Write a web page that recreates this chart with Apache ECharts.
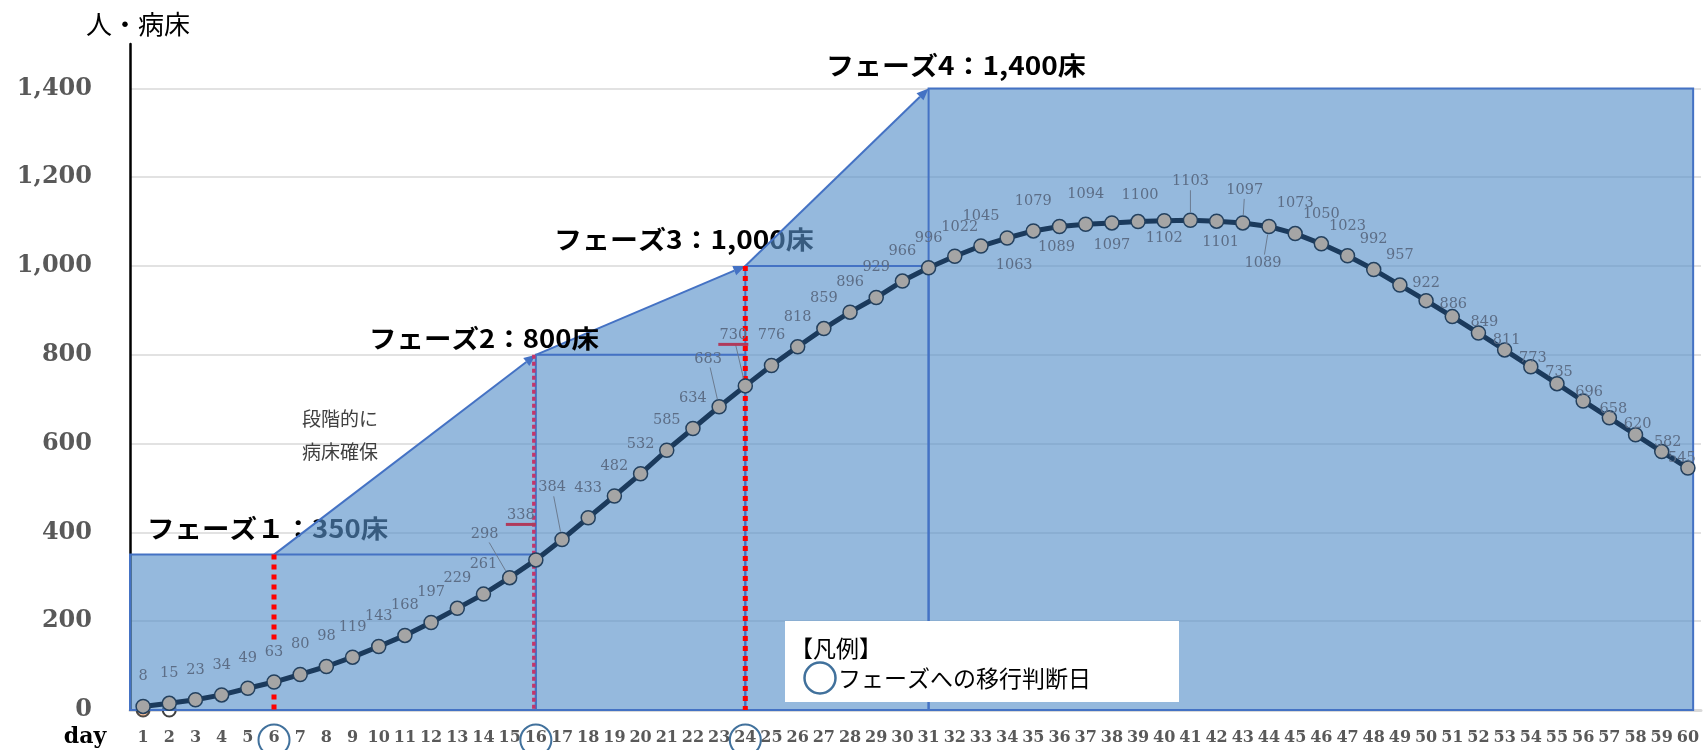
<!DOCTYPE html>
<html>
<head>
<meta charset="utf-8">
<script src="https://cdn.jsdelivr.net/npm/echarts@6/dist/echarts.min.js"></script>
<style>
html, body { margin: 0; padding: 0; background: #fff; }
#chart { width: 1704px; height: 750px; }
</style>
</head>
<body>
<div id="chart"></div>
<script>
// Day categories on the horizontal axis
const days = ['1','2','3','4','5','6','7','8','9','10','11','12','13','14','15','16','17','18','19','20',
  '21','22','23','24','25','26','27','28','29','30','31','32','33','34','35','36','37','38','39','40',
  '41','42','43','44','45','46','47','48','49','50','51','52','53','54','55','56','57','58','59','60'];

// Projected inpatients per day
const patients = [8, 15, 23, 34, 49, 63, 80, 98, 119, 143, 168, 197, 229, 261, 298, 338, 384, 433, 482, 532,
  585, 634, 683, 730, 776, 818, 859, 896, 929, 966, 996, 1022, 1045, 1063, 1079, 1089, 1094, 1097, 1100, 1102,
  1103, 1101, 1097, 1089, 1073, 1050, 1023, 992, 957, 922, 886, 849, 811, 773, 735, 696, 658, 620, 582, 545];

// Bed capacity per phase
const phaseLabels = ['フェーズ１：350床', 'フェーズ2：800床', 'フェーズ3：1,000床', 'フェーズ4：1,400床'];
const phaseBeds = [350, 800, 1000, 1400];
const phaseStart = [0.5, 16, 24, 31];
const phaseEnd = 60.2;

// Days on which the move to the next phase is decided
const decisionDays = [6, 16, 24];

// Value axis ticks
const yTicks = [0, 200, 400, 600, 800, 1000, 1200, 1400];
const yTop = 1500;

// ---- layout / styling helpers (not data) ----
const BLUE = '#4472c4';
const CIRCLE_BLUE = '#41719c';
const JP = '"Noto Sans CJK JP", "Noto Sans", sans-serif';

// Where each point's value label sits, relative to the point (px)
const labelOffsetOverride = {
  15: [-25, -43], 16: [-15, -45], 17: [-10, -52], 23: [-11, -48], 24: [-12, -51],
  32: [5, -29], 34: [7, 27], 36: [-3, 21], 38: [0, 22], 39: [2, -26], 40: [0, 18],
  41: [0, -39], 42: [4, 21], 43: [2, -33], 44: [-6, 37],
  50: [0, -17], 51: [1, -12], 52: [6, -11], 53: [2, -10], 54: [2, -9], 55: [2, -11],
  56: [6, -9], 57: [4, -9], 58: [2, -10], 59: [6, -9], 60: [-6, -10]
};
function labelOffset(day) { return labelOffsetOverride[day] || [0, -30]; }
const leaderDays = [15, 17, 23, 24, 41, 43, 44];
const underlinedDays = [16, 24];

// Decision-day marker lines: style and the stretch left open around the label
const decisionLineStyles = [
  { stroke: '#ff0000', lineWidth: 5, lineDash: [5, 5], dx: 0 },
  { stroke: '#c4356a', lineWidth: 3.5, lineDash: [4, 3], dx: -2 },
  { stroke: '#ff0000', lineWidth: 5, lineDash: [5, 5], dx: 0 }
];
const decisionLineGaps = [[35, 155], null, null];

function seg(a, b, style) {
  return { type: 'line', shape: { x1: a[0], y1: a[1], x2: b[0], y2: b[1] }, style: style };
}

// Secured-bed area: phase blocks plus the stepped ramps between them
function renderBeds(params, api) {
  const c = (x, y) => api.coord([x, y]);
  const children = [];
  const pts = [c(phaseStart[0], 0), c(phaseStart[0], phaseBeds[0])];
  for (let i = 0; i < decisionDays.length; i++) {
    pts.push(c(decisionDays[i], phaseBeds[i]));
    pts.push(c(phaseStart[i + 1], phaseBeds[i + 1]));
  }
  pts.push(c(phaseEnd, phaseBeds[phaseBeds.length - 1]), c(phaseEnd, 0));
  children.push({ type: 'polygon', shape: { points: pts }, style: { fill: 'rgba(87,144,201,0.63)' } });

  for (let i = 0; i < phaseBeds.length; i++) {
    const x0 = phaseStart[i];
    const x1 = i + 1 < phaseStart.length ? phaseStart[i + 1] : phaseEnd;
    const p0 = c(x0, phaseBeds[i]);
    const p1 = c(x1, 0);
    children.push({
      type: 'rect',
      shape: { x: p0[0], y: p0[1], width: p1[0] - p0[0], height: p1[1] - p0[1] },
      style: { fill: 'none', stroke: BLUE, lineWidth: 2 }
    });
  }

  for (let i = 0; i < decisionDays.length; i++) {
    const s = c(decisionDays[i], phaseBeds[i]);
    const e = c(phaseStart[i + 1], phaseBeds[i + 1]);
    const dx = e[0] - s[0], dy = e[1] - s[1];
    const len = Math.hypot(dx, dy), ux = dx / len, uy = dy / len;
    const L = 12, W = 5;
    const base = [e[0] - ux * L, e[1] - uy * L];
    children.push(seg(s, base, { stroke: BLUE, lineWidth: 2 }));
    children.push({
      type: 'polygon',
      shape: { points: [e, [base[0] - uy * W, base[1] + ux * W], [base[0] + uy * W, base[1] - ux * W]] },
      style: { fill: BLUE }
    });
  }
  return { type: 'group', children: children };
}

// Red dotted lines down from each decision point
function renderDecisionLines(params, api) {
  const children = [];
  decisionDays.forEach((d, i) => {
    const st = decisionLineStyles[i];
    const style = { stroke: st.stroke, lineWidth: st.lineWidth, lineDash: st.lineDash, lineCap: 'butt' };
    const gap = decisionLineGaps[i];
    const spans = gap ? [[phaseBeds[i], gap[1]], [gap[0], 0]] : [[phaseBeds[i], 0]];
    spans.forEach(sp => {
      const a = api.coord([d, sp[0]]), b = api.coord([d, sp[1]]);
      children.push(seg([a[0] + st.dx, a[1]], [b[0] + st.dx, b[1]], style));
    });
  });
  return { type: 'group', children: children };
}

function renderLeader(params, api) {
  const day = leaderDays[params.dataIndex];
  const p = api.coord([api.value(0), api.value(1)]);
  const off = labelOffset(day);
  const len = Math.hypot(off[0], off[1]);
  const a = [p[0] + off[0] * (1 - 9 / len), p[1] + off[1] * (1 - 9 / len)];
  const b = [p[0] + off[0] * (8 / len), p[1] + off[1] * (8 / len)];
  return seg(a, b, { stroke: '#6b7b90', lineWidth: 1 });
}

function renderUnderline(params, api) {
  const day = underlinedDays[params.dataIndex];
  const p = api.coord([api.value(0), api.value(1)]);
  const off = labelOffset(day);
  return {
    type: 'rect',
    shape: { x: p[0] + off[0] - 15, y: p[1] + off[1] + 8, width: 30, height: 3 },
    style: { fill: '#b03a5b' }
  };
}

function renderDayRing(params, api) {
  const p = api.coord([api.value(0), 0]);
  return {
    type: 'circle',
    shape: { cx: p[0], cy: p[1] + 30, r: 15.5 },
    style: { fill: 'none', stroke: CIRCLE_BLUE, lineWidth: 2 }
  };
}

function txt(text, x, y, font, fill, z, extra) {
  return Object.assign({
    type: 'text', x: x, y: y, z: z,
    style: { text: text, font: font, fill: fill, textAlign: 'left', textVerticalAlign: 'middle', align: 'left', verticalAlign: 'middle' }
  }, extra || {});
}

const chart = echarts.init(document.getElementById('chart'));

const option = {
  animation: false,
  backgroundColor: '#fff',
  grid: { left: 130, right: 3, top: 44, bottom: 40, containLabel: false },
  xAxis: [
    {
      type: 'category', data: days, boundaryGap: true, offset: 2,
      axisLine: { lineStyle: { color: '#d9d9d9', width: 3 } },
      axisTick: { show: false },
      axisLabel: { interval: 0, margin: 18, color: '#595959', fontFamily: 'DejaVu Serif', fontWeight: 'bold', fontSize: 16 },
      splitLine: { show: false }
    },
    { type: 'value', min: 0.5, max: 60.5, show: false }
  ],
  yAxis: {
    type: 'value', min: 0, max: yTop, interval: 200,
    axisLine: { show: true, lineStyle: { color: '#000', width: 2.5 } },
    axisTick: { show: false },
    axisLabel: {
      margin: 38, color: '#595959', fontFamily: 'DejaVu Serif', fontWeight: 'bold', fontSize: 24,
      showMaxLabel: false,
      formatter: v => (yTicks.indexOf(v) >= 0 ? v.toLocaleString('en-US') : '')
    },
    splitLine: { show: true, showMaxLine: false, lineStyle: { color: '#d9d9d9', width: 1.5 } }
  },
  graphic: [
    txt('人・病床', 86, 24, '26px ' + JP, '#000', 10),
    txt(phaseLabels[0], 147, 528, 'bold 25px ' + JP, '#000', 1, { scaleX: 1.1 }),
    txt(phaseLabels[1], 369, 338, 'bold 25px ' + JP, '#000', 10, { scaleX: 1.1 }),
    txt(phaseLabels[2], 554, 239, 'bold 25px ' + JP, '#000', 1, { scaleX: 1.12 }),
    txt(phaseLabels[3], 826, 65, 'bold 25px ' + JP, '#000', 10, { scaleX: 1.12 }),
    txt('段階的に', 302, 419, '19px ' + JP, '#404040', 10),
    txt('病床確保', 302, 452, '19px ' + JP, '#404040', 10),
    { type: 'rect', z: 10, shape: { x: 785, y: 621, width: 394, height: 81 }, style: { fill: '#fff' } },
    txt('【凡例】', 790, 648, '23px ' + JP, '#000', 11),
    { type: 'circle', z: 11, shape: { cx: 820, cy: 678, r: 15.5 }, style: { fill: 'none', stroke: CIRCLE_BLUE, lineWidth: 2.5 } },
    txt('フェーズへの移行判断日', 838, 678, '23px ' + JP, '#000', 11),
    {
      type: 'text', x: 85, y: 737, z: 10,
      style: { text: 'day', font: 'bold 22px "DejaVu Serif"', fill: '#000', textAlign: 'center', textVerticalAlign: 'middle', align: 'center', verticalAlign: 'middle' }
    }
  ],
  series: [
    {
      type: 'scatter', xAxisIndex: 0, yAxisIndex: 0, z: 1, clip: false, silent: true,
      symbolSize: 13,
      data: [
        { value: [0, 0], itemStyle: { color: '#f4b183', borderColor: '#222', borderWidth: 2 } },
        { value: [1, 0], itemStyle: { color: '#ffffff', borderColor: '#111', borderWidth: 2 } }
      ]
    },
    {
      type: 'custom', name: 'beds', xAxisIndex: 1, yAxisIndex: 0, z: 2, silent: true,
      renderItem: renderBeds, data: [[1, 0]]
    },
    {
      type: 'custom', name: 'decision', xAxisIndex: 1, yAxisIndex: 0, z: 3, silent: true,
      renderItem: renderDecisionLines, data: [[1, 0]]
    },
    {
      type: 'line', name: '入院患者数', xAxisIndex: 0, yAxisIndex: 0, z: 4,
      data: patients.map((v, i) => ({ value: v, label: { offset: labelOffset(i + 1) } })),
      symbol: 'circle', symbolSize: 14,
      lineStyle: { color: '#1b3a5c', width: 5 },
      itemStyle: { color: '#a5a5a5', borderColor: '#23405e', borderWidth: 1.5 },
      label: { show: true, position: 'inside', color: '#5c6d86', fontFamily: 'DejaVu Serif', fontSize: 14.5 },
      emphasis: { disabled: true }
    },
    {
      type: 'custom', name: 'leaders', xAxisIndex: 0, yAxisIndex: 0, z: 5, silent: true,
      renderItem: renderLeader, data: leaderDays.map(d => [d - 1, patients[d - 1]])
    },
    {
      type: 'custom', name: 'underlines', xAxisIndex: 0, yAxisIndex: 0, z: 5, silent: true,
      renderItem: renderUnderline, data: underlinedDays.map(d => [d - 1, patients[d - 1]])
    },
    {
      type: 'custom', name: 'rings', xAxisIndex: 0, yAxisIndex: 0, z: 5, silent: true, clip: false,
      renderItem: renderDayRing, data: decisionDays.map(d => [d - 1, 0])
    }
  ]
};

chart.setOption(option);
</script>
</body>
</html>
